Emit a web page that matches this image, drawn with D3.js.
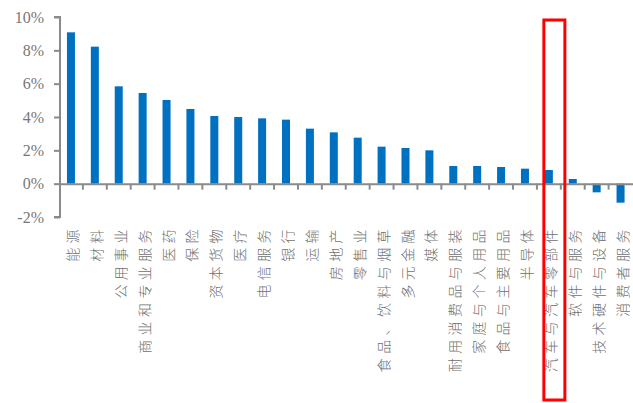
<!DOCTYPE html>
<html><head><meta charset="utf-8">
<script src="https://cdn.jsdelivr.net/npm/d3@7"></script>
<style>html,body{margin:0;padding:0;background:#fff;}</style>
</head><body>
<svg id="c" width="633" height="403"></svg>
<script>
const categories = ["能源","材料","公用事业","商业和专业服务","医药","保险","资本货物","医疗","电信服务","银行","运输","房地产","零售业","食品、饮料与烟草","多元金融","媒体","耐用消费品与服装","家庭与个人用品","食品与主要用品","半导体","汽车与汽车零部件","软件与服务","技术硬件与设备","消费者服务"];
const values = [9.08,8.22,5.84,5.44,5.02,4.48,4.06,4.0,3.92,3.84,3.3,3.08,2.76,2.22,2.14,2.0,1.06,1.06,1.0,0.9,0.82,0.28,-0.52,-1.14];
const yTicks = [-2,0,2,4,6,8,10];
const highlight = "汽车与汽车零部件";

const svg = d3.select("#c");
const x = d3.scaleBand().domain(categories).range([60, 633.5]).padding(0);
const y = d3.scaleLinear().domain([-2, 10]).range([217, 17]);
const axisColor = "#8a8a8a";

// bars
svg.append("g").selectAll("rect").data(categories).join("rect")
  .attr("x", d => x(d) + x.bandwidth()/2 - 5)
  .attr("width", 8)
  .attr("y", (d,i) => y(Math.max(0, values[i])))
  .attr("height", (d,i) => Math.abs(y(values[i]) - y(0)))
  .attr("fill", "#0070C0");

// y axis
const yAxis = svg.append("g").attr("transform", "translate(60,0)")
  .call(d3.axisLeft(y).tickValues(yTicks).tickSize(6).tickFormat(d => d + "%"));
yAxis.select(".domain").attr("stroke", axisColor).attr("stroke-width", 2).attr("d", `M-6,${y(10)}H0V${y(-2)}H-6`);
yAxis.selectAll(".tick line").attr("stroke", axisColor).attr("stroke-width", 2);
yAxis.selectAll(".tick text").attr("x", -16).attr("fill", "#777")
  .style("font-family", "'Liberation Serif', serif").style("font-size", "16px");

// x baseline at 0 with ticks at band boundaries
const xAxis = svg.append("g").attr("transform", `translate(0,${y(0)})`)
  .call(d3.axisBottom(x).tickSize(0).tickFormat(""));
xAxis.select(".domain").attr("stroke", axisColor).attr("stroke-width", 2);
xAxis.selectAll(".tick").remove();
xAxis.selectAll("line.sep").data(categories.slice(1)).join("line").attr("class","sep")
  .attr("x1", d => x(d) - 1).attr("x2", d => x(d) - 1)
  .attr("y1", 0).attr("y2", 6).attr("stroke", axisColor).attr("stroke-width", 2);

// category labels rotated 270°, reading bottom-to-top, aligned at top
svg.append("g").selectAll("text").data(categories).join("text")
  .attr("transform", d => `translate(${x(d) + x.bandwidth()/2 + 1},225) rotate(-90)`)
  .attr("text-anchor", "end")
  .attr("dy", "0.36em")
  .attr("fill", "#707070")
  .style("font-family", "'Noto Sans CJK SC', sans-serif")
  .style("font-weight", "300")
  .style("font-size", "14px")
  .style("letter-spacing", "4.4px")
  .text(d => d);

// highlight box
const hx = x(highlight) + x.bandwidth()/2;
svg.append("rect")
  .attr("x", hx - 6).attr("y", 20)
  .attr("width", 21).attr("height", 380)
  .attr("fill", "none").attr("stroke", "#ff0000").attr("stroke-width", 3);
</script>
</body></html>
